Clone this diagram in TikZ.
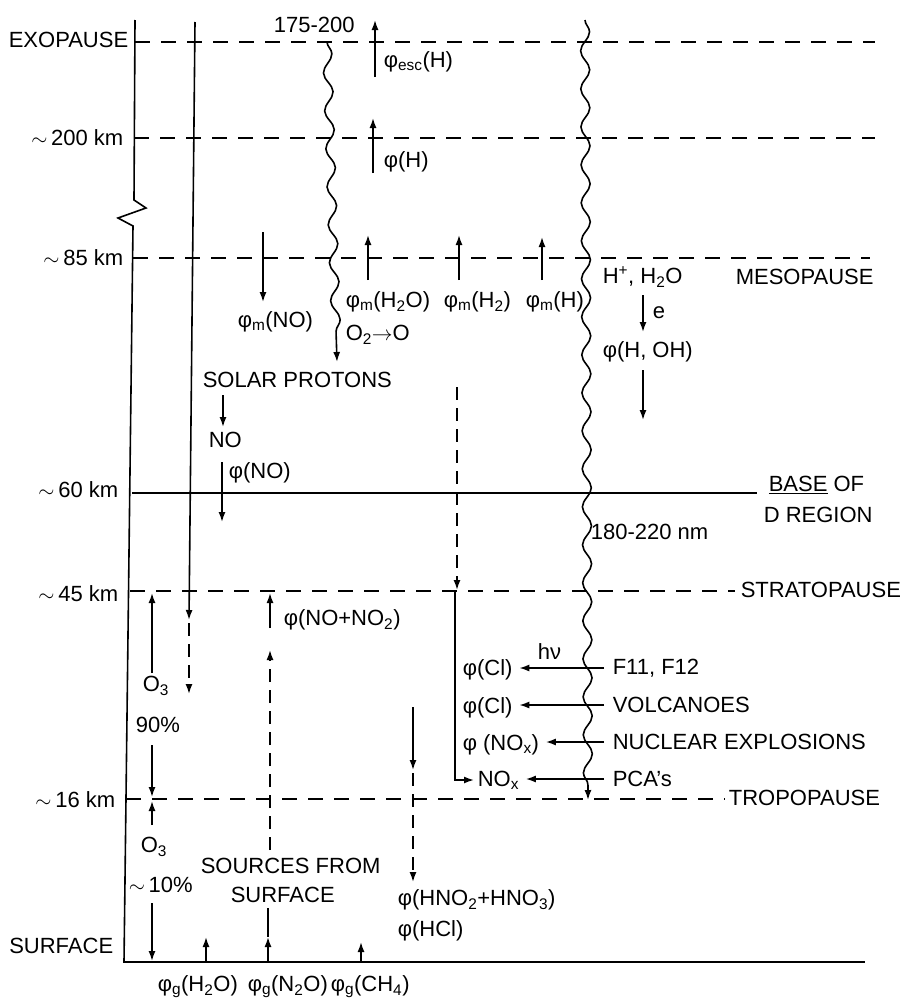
\documentclass[tikz,border=0pt]{standalone}
\usepackage{fontspec}
\setmainfont{Liberation Sans}
\usetikzlibrary{arrows.meta,decorations.pathmorphing,calc}

\begin{document}
\begin{tikzpicture}[
  x=1pt, y=-1pt,
  font=\fontsize{22}{24}\selectfont,
  line width=1.6pt,
  pause/.style={dash pattern=on 15pt off 11pt},
  dsh/.style={dash pattern=on 13pt off 8pt},
  lbl/.style={inner sep=0pt, anchor=west},
  lvl/.style={inner sep=0pt, anchor=east},
  arr/.style={-{Latex[length=10pt,width=7pt]}},
  larr/.style={arr, shorten <=8pt, shorten >=6pt},
  wave/.style={decorate, decoration={snake, segment length=38pt, amplitude=4.5pt, post length=12pt}}
]
\useasboundingbox (0,0) rectangle (904,1001);

% ---------- altitude axis and levels ----------
\draw (135,20) -- (134,200) -- (146,208) -- (118,218) -- (133,226) -- (124,962);
\draw[pause] (135,42)  -- (875,42);
\draw[pause] (134,138) -- (875,138);
\draw[pause] (133,258) -- (870,258);
\draw        (132,493) -- (757,493);
\draw[pause] (130,591) -- (735,591);
\draw[pause] (126,799) -- (725,799);
\draw        (123,962) -- (865,962);

\node[lvl] (exo)  at (129,40)  {EXOPAUSE};
\node[lvl] (k200) at (124,138) {$\sim$\,200 km};
\node[lvl] (k85)  at (124,258) {$\sim$\,85 km};
\node[lvl] (k60)  at (119,490) {$\sim$\,60 km};
\node[lvl] (k45)  at (119,594) {$\sim$\,45 km};
\node[lvl] (k16)  at (116,800) {$\sim$\,16 km};
\node[lvl] (surf) at (114,946) {SURFACE};

\node[lbl] (meso)   at (735,277) {MESOPAUSE};
\node[lbl] (baseof) at (768,485) {\underline{BASE} OF};
\node[lbl] (dreg)   at (763,515) {D REGION};
\node[lbl] (strato) at (740,590) {STRATOPAUSE};
\node[lbl] (tropo)  at (728,798) {TROPOPAUSE};

% ---------- radiation ----------
\node[lbl] (uv1) at (273,25)  {175-200};
\node[lbl] (uv2) at (590,532) {180-220 nm};
\draw[arr, wave] (327,42) -- (337,362);
\draw[arr, wave] (585,20) -- (588,800);

% ---------- upper atmosphere fluxes ----------
\draw[arr] (195,22) -- (189,620);
\draw[arr, dsh] (189,623) -- (189,694);

\node[lbl] (phiesc) at (383,62)  {φ\textsubscript{esc}(H)};
\node[lbl] (phih)   at (383,162) {φ(H)};
\draw[arr] (375,77)  -- (375,20);
\draw[arr] (373,173) -- (373,118);

\node[lbl] (mno)  at (237,322) {φ\textsubscript{m}(NO)};
\node[lbl] (mh2o) at (345,302) {φ\textsubscript{m}(H\textsubscript{2}O)};
\node[lbl] (mh2)  at (443,302) {φ\textsubscript{m}(H\textsubscript{2})};
\node[lbl] (mh)   at (525,302) {φ\textsubscript{m}(H)};
\node[lbl] (o2o)  at (345,335) {O\textsubscript{2}$\rightarrow$O};
\draw[arr] (263,232) -- (263,302);
\draw[arr] (368,280) -- (368,235);
\draw[arr] (459,280) -- (459,235);
\draw[arr] (542,280) -- (542,237);

\node[lbl] (hion) at (602,277) {H\textsuperscript{+}, H\textsubscript{2}O};
\node[lbl] (elec) at (652,313) {e};
\node[lbl] (hoh)  at (602,352) {φ(H, OH)};
\draw[arr] (643,295) -- (643,332);
\draw[arr] (643,370) -- (643,420);

\node[lbl] (solar) at (202,380) {SOLAR PROTONS};
\node[lbl] (no)    at (208,440) {NO};
\node[lbl] (phino) at (228,473) {φ(NO)};
\draw[arr] (223,395) -- (223,427);
\draw[arr] (222,462) -- (222,522);

% ---------- stratosphere ----------
\node[lbl] (nono2) at (283,620) {φ(NO+NO\textsubscript{2})};
\draw[arr] (270,628) -- (270,593);
\draw[arr, dsh] (270,850) -- (270,650);

\draw[arr, dsh] (457,387) -- (457,590);

\node[lbl] (cla)  at (462,670) {φ(Cl)};
\node[lbl] (clb)  at (462,708) {φ(Cl)};
\node[lbl] (noxa) at (462,745) {φ (NO\textsubscript{x})};
\node[lbl] (noxb) at (477,780) {NO\textsubscript{x}};
\node[lbl] (hnu)  at (537,652) {hν};
\node[lbl] (cfc)  at (612,668) {F11, F12};
\node[lbl] (volc) at (612,705) {VOLCANOES};
\node[lbl] (nucl) at (612,742) {NUCLEAR EXPLOSIONS};
\node[lbl] (pca)  at (612,779) {PCA's};
\draw[arr] (455,592) |- ([xshift=-3pt]noxb.west);
\draw[larr] (cfc.west)  -- (cfc.west -| cla.east);
\draw[larr] (volc.west) -- (volc.west -| clb.east);
\draw[larr] (nucl.west) -- (nucl.west -| noxa.east);
\draw[larr] (pca.west)  -- (pca.west -| noxb.east);

% ---------- ozone column ----------
\node[lbl] (o3a)  at (142,686) {O\textsubscript{3}};
\node[lbl] (p90)  at (135,725) {90\%};
\node[lbl] (o3b)  at (140,847) {O\textsubscript{3}};
\node[lbl] (p10)  at (128,885) {$\sim$\,10\%};
\draw[arr] (152,673) -- (152,593);
\draw[arr] (152,745) -- (152,797);
\draw[arr] (152,825) -- (152,801);
\draw[arr] (152,903) -- (152,961);

% ---------- troposphere and surface ----------
\draw[arr] (413,707) -- (413,770);
\draw[arr, dsh] (413,773) -- (413,882);
\node[lbl] (hno) at (397,900) {φ(HNO\textsubscript{2}+HNO\textsubscript{3})};
\node[lbl] (hcl) at (397,931) {φ(HCl)};

\node[lbl] (src1) at (200,866) {SOURCES FROM};
\node[lbl] (src2) at (230,895) {SURFACE};
\draw (268,908) -- (268,937);
\draw[arr] (206,962) -- (206,937);
\draw[arr] (268,962) -- (268,937);
\draw[arr] (361,962) -- (361,942);
\node[lbl] (gh2o) at (157,987) {φ\textsubscript{g}(H\textsubscript{2}O)};
\node[lbl] (gn2o) at (247,987) {φ\textsubscript{g}(N\textsubscript{2}O)};
\node[lbl] (gch4) at (330,987) {φ\textsubscript{g}(CH\textsubscript{4})};

\end{tikzpicture}
\end{document}
